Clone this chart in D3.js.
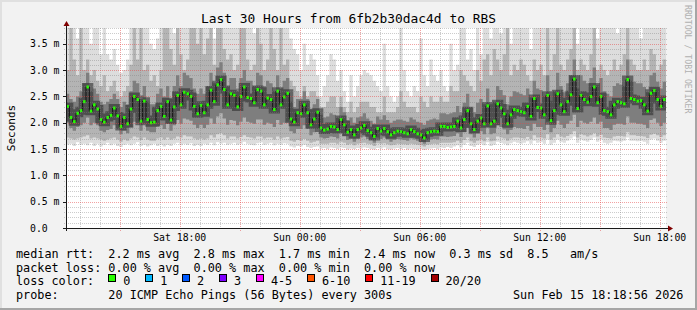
<!DOCTYPE html>
<html>
<head>
<meta charset="utf-8">
<script src="https://d3js.org/d3.v7.min.js"></script>
<style>
  html, body { margin: 0; padding: 0; background: #f2f2f2; }
  svg { display: block; }
  text { font-family: "DejaVu Sans Mono", monospace; fill: #000; white-space: pre; }
</style>
</head>
<body>
<svg id="chart" width="697" height="310"></svg>
<script>
// 30 hours of pings, one value per 10 minute step, in ms
var startTime = Date.UTC(2026, 1, 14, 12, 18, 56);
var endTime = Date.UTC(2026, 1, 15, 18, 18, 56);
var stepMinutes = 10;

var median = [
	2.31,2.10,2.02,2.18,2.23,2.40,2.68,2.22,2.34,2.26,
	2.06,2.01,2.10,2.14,2.28,2.13,1.93,2.10,1.98,2.26,
	2.50,2.44,2.03,2.41,2.06,2.00,2.01,2.23,2.31,2.12,
	2.40,2.05,2.30,2.52,2.34,2.58,2.55,2.50,2.31,2.17,
	2.33,2.19,2.34,2.62,2.40,2.72,2.82,2.63,2.34,2.55,
	2.52,2.30,2.50,2.68,2.48,2.46,2.38,2.63,2.60,2.34,
	2.47,2.44,2.25,2.60,2.34,2.49,2.56,2.07,2.01,2.19,
	2.17,2.34,2.19,1.96,2.07,2.20,1.90,1.86,1.88,1.93,
	1.92,1.87,2.06,1.96,1.82,1.87,1.77,1.87,1.90,1.95,
	1.85,1.81,1.74,1.89,1.84,1.89,1.83,1.77,1.81,1.84,
	1.83,1.81,1.79,1.87,1.83,1.79,1.77,1.71,1.81,1.83,
	1.84,1.83,1.93,1.93,1.91,1.92,1.93,2.03,1.90,2.06,
	2.23,1.98,1.87,2.03,2.09,1.98,2.32,1.98,2.03,2.36,
	2.28,2.17,1.98,2.15,2.25,2.23,2.21,2.19,2.31,2.12,
	2.46,2.29,2.28,2.15,2.52,2.04,2.23,2.55,2.34,2.21,
	2.40,2.53,2.83,2.27,2.52,2.44,2.39,2.50,2.68,2.38,
	2.50,2.23,2.21,2.15,2.34,2.40,2.38,2.36,2.82,2.46,
	2.44,2.41,2.42,2.34,2.22,2.56,2.61,2.44,2.31,2.44
];

// smoke: slowest ping (3.9 = off the top of the graph)
var pingMax = [
	3.9,3.9,3.9,3.6,3.9,3.9,3.9,3.5,3.9,3.9,
	3.3,3.9,3.3,3.2,3.4,3.1,2.95,3.0,3.2,3.9,
	3.9,3.9,3.9,3.9,3.9,3.5,3.4,3.6,3.9,3.9,
	3.9,3.9,3.7,3.9,3.9,3.9,3.9,3.9,3.9,3.9,
	3.9,3.9,3.9,3.9,3.6,3.9,3.9,3.9,3.9,3.9,
	3.9,3.9,3.9,3.9,3.9,3.9,3.7,3.9,3.9,3.9,
	3.9,3.9,3.9,3.9,3.9,3.9,3.9,3.6,3.4,3.3,
	3.0,3.5,3.1,3.3,3.2,2.9,2.5,2.7,2.9,3.3,
	3.2,2.8,3.0,2.6,2.4,2.9,2.5,2.7,2.9,3.0,
	2.95,2.9,2.8,2.7,2.6,3.5,2.7,2.5,2.4,2.5,
	3.9,3.0,2.6,2.5,2.7,2.6,3.6,2.9,2.7,3.2,
	2.9,2.8,3.0,2.7,2.6,3.5,3.0,3.1,3.9,3.9,
	3.2,3.4,3.0,3.9,3.3,3.9,3.9,3.6,3.9,3.9,
	3.7,3.9,3.9,3.5,3.9,3.9,3.9,3.9,3.9,3.4,
	3.9,3.9,3.9,3.9,3.6,3.9,3.9,3.9,3.9,3.9,
	3.9,3.9,3.9,3.5,3.9,3.9,3.9,3.9,3.9,3.6,
	3.9,3.9,3.9,3.9,3.9,3.7,3.9,3.9,3.9,3.9,
	3.9,3.9,3.6,3.9,3.9,3.9,3.9,3.9,3.9,3.9
];

// smoke: upper edge of the middle grey
var pingHigh = [
	3.0,3.9,3.2,2.9,3.9,3.0,3.2,2.9,3.0,2.8,
	2.7,2.9,2.6,2.7,2.8,2.6,2.5,2.6,2.7,3.1,
	3.9,3.2,3.9,3.0,3.1,2.8,2.9,2.7,3.0,3.9,
	3.9,3.4,3.1,3.9,3.3,3.0,3.2,3.9,3.9,3.5,
	3.9,3.3,3.6,3.9,3.1,3.9,3.9,3.4,3.2,3.3,
	3.0,3.1,3.9,3.9,3.2,3.0,3.1,3.9,3.5,3.0,
	3.2,3.9,3.4,3.0,3.9,3.1,3.2,2.8,2.7,2.6,
	2.5,2.7,2.5,2.6,2.6,2.5,2.3,2.3,2.4,2.5,
	2.5,2.3,2.5,2.3,2.2,2.4,2.2,2.3,2.4,2.4,
	2.4,2.3,2.3,2.2,2.2,2.5,2.2,2.2,2.2,2.3,
	2.6,2.4,2.3,2.3,2.3,2.2,2.5,2.4,2.3,2.5,
	2.4,2.4,2.5,2.4,2.4,2.7,2.6,2.6,3.0,2.9,
	2.8,2.7,2.6,3.0,2.8,3.2,3.3,2.9,3.4,3.2,
	3.0,3.3,3.9,2.9,3.1,3.0,3.2,3.1,2.9,2.8,
	3.2,3.0,3.1,2.9,3.9,3.0,3.3,3.9,3.1,3.0,
	3.2,3.4,3.9,3.0,3.2,3.1,3.0,3.3,3.9,3.0,
	3.1,3.0,2.9,3.0,3.2,3.0,3.1,3.3,3.9,3.2,
	3.1,3.0,3.0,3.2,3.0,3.4,3.3,3.0,3.1,3.2
];

// smoke: dark band round the median, upper edge
var pingQ3 = [
	2.55,2.45,2.40,2.50,2.60,2.75,2.95,2.60,2.65,2.55,
	2.40,2.35,2.40,2.45,2.55,2.45,2.30,2.40,2.35,2.60,
	2.80,2.75,2.45,2.70,2.40,2.35,2.35,2.55,2.65,2.50,
	2.70,2.45,2.70,2.90,2.70,2.95,2.90,2.85,2.65,2.55,
	2.65,2.55,2.70,2.95,2.75,3.05,3.15,2.95,2.70,2.85,
	2.85,2.65,2.85,3.00,2.80,2.80,2.70,2.95,2.90,2.70,
	2.80,2.75,2.60,2.90,2.65,2.80,2.85,2.40,2.30,2.45,
	2.45,2.60,2.45,2.25,2.35,2.45,2.15,2.10,2.12,2.18,
	2.15,2.10,2.30,2.20,2.05,2.10,2.00,2.10,2.12,2.18,
	2.08,2.04,1.98,2.12,2.06,2.14,2.05,2.00,2.04,2.06,
	2.06,2.04,2.02,2.10,2.06,2.02,2.00,1.96,2.04,2.06,
	2.08,2.06,2.18,2.18,2.16,2.18,2.20,2.32,2.20,2.38,
	2.55,2.30,2.20,2.38,2.45,2.35,2.65,2.35,2.40,2.70,
	2.62,2.52,2.35,2.50,2.60,2.58,2.55,2.52,2.65,2.48,
	2.80,2.65,2.62,2.50,2.90,2.42,2.60,2.95,2.70,2.58,
	2.75,2.90,3.20,2.65,2.90,2.80,2.75,2.85,3.05,2.72,
	2.85,2.60,2.55,2.50,2.70,2.75,2.72,2.70,3.20,2.80,
	2.78,2.75,2.75,2.68,2.58,2.90,2.95,2.78,2.65,2.78
];

// smoke: dark band round the median, lower edge
var pingQ1 = [
	2.00,1.90,1.85,1.92,1.95,2.00,2.10,1.95,2.00,1.95,
	1.85,1.82,1.86,1.88,1.95,1.88,1.78,1.85,1.80,1.92,
	2.02,2.00,1.85,1.98,1.85,1.82,1.82,1.92,1.95,1.88,
	1.98,1.85,1.95,2.05,1.98,2.08,2.06,2.04,1.96,1.90,
	1.96,1.90,1.96,2.08,1.98,2.12,2.18,2.08,1.96,2.05,
	2.04,1.95,2.02,2.10,2.02,2.00,1.98,2.06,2.06,1.96,
	2.00,1.98,1.92,2.05,1.96,2.00,2.02,1.84,1.80,1.88,
	1.88,1.95,1.88,1.76,1.82,1.88,1.72,1.70,1.71,1.74,
	1.73,1.70,1.80,1.75,1.67,1.70,1.64,1.70,1.72,1.74,
	1.69,1.67,1.62,1.72,1.69,1.72,1.68,1.64,1.67,1.69,
	1.68,1.67,1.66,1.70,1.68,1.66,1.64,1.60,1.67,1.68,
	1.69,1.68,1.74,1.74,1.73,1.74,1.75,1.80,1.73,1.82,
	1.90,1.78,1.72,1.80,1.84,1.78,1.92,1.78,1.80,1.95,
	1.92,1.87,1.78,1.86,1.92,1.90,1.90,1.88,1.94,1.85,
	1.98,1.92,1.92,1.86,2.02,1.82,1.90,2.04,1.96,1.90,
	1.98,2.04,2.15,1.92,2.04,2.00,1.98,2.02,2.10,1.98,
	2.02,1.90,1.90,1.86,1.96,1.98,1.98,1.96,2.12,2.00,
	2.00,1.98,1.98,1.96,1.90,2.05,2.08,2.00,1.94,2.00
];

// smoke: lower edge of the middle grey
var pingLow = [
	1.72,1.70,1.68,1.70,1.72,1.74,1.76,1.70,1.72,1.70,
	1.68,1.66,1.68,1.70,1.72,1.68,1.64,1.68,1.66,1.70,
	1.74,1.72,1.67,1.72,1.68,1.66,1.66,1.70,1.72,1.68,
	1.72,1.68,1.70,1.74,1.72,1.76,1.74,1.74,1.70,1.68,
	1.70,1.68,1.70,1.76,1.72,1.78,1.80,1.76,1.70,1.74,
	1.74,1.70,1.73,1.76,1.73,1.72,1.70,1.74,1.74,1.70,
	1.72,1.72,1.68,1.74,1.70,1.72,1.73,1.66,1.64,1.67,
	1.66,1.69,1.66,1.62,1.64,1.66,1.60,1.60,1.60,1.62,
	1.62,1.60,1.64,1.62,1.58,1.60,1.57,1.60,1.61,1.62,
	1.60,1.59,1.56,1.61,1.60,1.61,1.59,1.57,1.58,1.60,
	1.59,1.59,1.58,1.60,1.59,1.58,1.57,1.55,1.58,1.59,
	1.60,1.59,1.62,1.62,1.62,1.62,1.63,1.66,1.62,1.67,
	1.72,1.65,1.62,1.66,1.68,1.65,1.72,1.65,1.66,1.74,
	1.72,1.70,1.66,1.70,1.72,1.72,1.71,1.70,1.73,1.69,
	1.76,1.72,1.72,1.70,1.78,1.68,1.72,1.78,1.74,1.72,
	1.75,1.78,1.84,1.72,1.78,1.76,1.74,1.76,1.80,1.74,
	1.77,1.72,1.71,1.70,1.74,1.75,1.75,1.74,1.82,1.76,
	1.76,1.75,1.75,1.74,1.71,1.77,1.79,1.76,1.73,1.76
];

// smoke: fastest ping
var pingMin = [
	1.58,1.60,1.56,1.63,1.58,1.60,1.57,1.62,1.56,1.60,
	1.55,1.58,1.62,1.57,1.60,1.56,1.54,1.58,1.60,1.57,
	1.60,1.63,1.56,1.58,1.55,1.57,1.60,1.56,1.58,1.55,
	1.58,1.56,1.60,1.62,1.57,1.60,1.58,1.61,1.56,1.58,
	1.56,1.60,1.58,1.62,1.57,1.63,1.60,1.62,1.58,1.60,
	1.62,1.58,1.60,1.64,1.60,1.58,1.57,1.61,1.63,1.58,
	1.60,1.62,1.57,1.60,1.58,1.61,1.60,1.55,1.53,1.56,
	1.55,1.58,1.54,1.52,1.54,1.55,1.51,1.52,1.50,1.53,
	1.52,1.50,1.53,1.52,1.49,1.51,1.50,1.52,1.51,1.53,
	1.52,1.50,1.49,1.52,1.51,1.53,1.50,1.49,1.51,1.52,
	1.50,1.52,1.49,1.51,1.50,1.49,1.50,1.48,1.50,1.51,
	1.52,1.50,1.53,1.52,1.54,1.52,1.55,1.57,1.53,1.58,
	1.62,1.56,1.54,1.58,1.60,1.57,1.63,1.56,1.58,1.64,
	1.62,1.60,1.57,1.61,1.64,1.62,1.60,1.62,1.65,1.60,
	1.66,1.62,1.64,1.60,1.68,1.58,1.62,1.68,1.64,1.62,
	1.66,1.70,1.74,1.62,1.68,1.66,1.64,1.67,1.72,1.64,
	1.68,1.62,1.60,1.62,1.66,1.65,1.64,1.66,1.72,1.66,
	1.66,1.65,1.66,1.64,1.60,1.68,1.70,1.66,1.62,1.66
];

var yTicks = [0, 0.5, 1.0, 1.5, 2.0, 2.5, 3.0, 3.5];
var yTickLabels = ["0.0", "0.5 m", "1.0 m", "1.5 m", "2.0 m", "2.5 m", "3.0 m", "3.5 m"];
var xTicks = [Date.UTC(2026,1,14,18), Date.UTC(2026,1,15,0), Date.UTC(2026,1,15,6), Date.UTC(2026,1,15,12), Date.UTC(2026,1,15,18)];
var xTickLabels = ["Sat 18:00", "Sun 00:00", "Sun 06:00", "Sun 12:00", "Sun 18:00"];

var lossLabels = ["0", "1", "2", "3", "4-5", "6-10", "11-19", "20/20"];
var lossColors = ["#26ff00", "#00b8ff", "#0059ff", "#7e00ff", "#ff00ff", "#ff5500", "#ff0000", "#a10000"];

var legendLines = [
	"median rtt:  2.2 ms avg  2.8 ms max  1.7 ms min  2.4 ms now  0.3 ms sd  8.5   am/s",
	"packet loss: 0.00 % avg  0.00 % max  0.00 % min  0.00 % now",
	"loss color:",
	"probe:       20 ICMP Echo Pings (56 Bytes) every 300s"
];
var stampText = "Sun Feb 15 18:18:56 2026";

var W = 697, H = 310;
var plot = {left: 66, right: 666, top: 28, bottom: 228};
var charW = 7.1;

var x = d3.scaleUtc().domain([startTime, endTime]).range([plot.left, plot.right]);
var y = d3.scaleLinear().domain([0, 3.8]).range([plot.bottom, plot.top]);

var svg = d3.select("#chart");

// background + frame
svg.append("rect").attr("width", W).attr("height", H).attr("fill", "#f2f2f2");
svg.append("rect").attr("x", 0).attr("y", 0).attr("width", W).attr("height", 2).attr("fill", "#e0e0e0");
svg.append("rect").attr("x", 0).attr("y", 0).attr("width", 2).attr("height", H).attr("fill", "#e0e0e0");
svg.append("rect").attr("x", 0).attr("y", H - 2).attr("width", W).attr("height", 2).attr("fill", "#a6a6a6");
svg.append("rect").attr("x", W - 2).attr("y", 0).attr("width", 2).attr("height", H).attr("fill", "#a6a6a6");

svg.append("rect")
	.attr("x", plot.left).attr("y", plot.top)
	.attr("width", plot.right - plot.left).attr("height", plot.bottom - plot.top)
	.attr("fill", "#ffffff");

svg.append("clipPath").attr("id", "clip")
	.append("rect")
	.attr("x", plot.left).attr("y", plot.top)
	.attr("width", plot.right - plot.left).attr("height", plot.bottom - plot.top);

var g = svg.append("g").attr("clip-path", "url(#clip)");

var N = median.length;
var idx = d3.range(N + 1);
function tAt(i) { return startTime + i * stepMinutes * 60000; }
function val(arr, i) { return arr[Math.min(i, arr.length - 1)]; }

function band(lo, hi, color) {
	var area = d3.area()
		.curve(d3.curveStepAfter)
		.x(function(i) { return x(tAt(i)); })
		.y0(function(i) { return y(val(lo, i)); })
		.y1(function(i) { return y(val(hi, i)); });
	g.append("path").datum(idx).attr("d", area).attr("fill", color);
}

band(pingMin, pingMax, "#dddddd");
band(pingLow, pingHigh, "#b4b4b4");
band(pingQ1, pingQ3, "#7e7e7e");

var medLine = d3.line()
	.curve(d3.curveStepAfter)
	.x(function(i) { return x(tAt(i)); })
	.y(function(i) { return y(val(median, i)); });

// dark core of the smoke round the median
g.append("path").datum(idx).attr("d", medLine)
	.attr("fill", "none").attr("stroke", "#2e2e2e").attr("stroke-width", 8).attr("opacity", 0.6);

// grid, drawn over the smoke like rrdtool does
var minorY = y.ticks(38).filter(function(v) { return Math.round(v * 10) % 5 !== 0; });
var minorX = d3.utcHour.range(startTime, endTime).filter(function(t) { return t.getUTCHours() % 3 !== 0; });
var majorX = d3.utcHour.every(3).range(startTime, endTime);

var grid = svg.append("g").attr("fill", "none").attr("stroke-dasharray", "1,1");
var minorCol = "rgba(128,128,128,0.4)", majorCol = "rgba(230,70,70,0.5)";

grid.selectAll(".minor-y").data(minorY).enter().append("line")
	.attr("x1", plot.left - 2).attr("x2", plot.right + 2)
	.attr("y1", function(d) { return Math.round(y(d)) + 0.5; })
	.attr("y2", function(d) { return Math.round(y(d)) + 0.5; })
	.attr("stroke", minorCol);

grid.selectAll(".minor-x").data(minorX).enter().append("line")
	.attr("y1", plot.top).attr("y2", plot.bottom + 2)
	.attr("x1", function(d) { return Math.round(x(d)) + 0.5; })
	.attr("x2", function(d) { return Math.round(x(d)) + 0.5; })
	.attr("stroke", minorCol);

grid.selectAll(".major-y").data(yTicks.slice(1)).enter().append("line")
	.attr("x1", plot.left - 2).attr("x2", plot.right + 2)
	.attr("y1", function(d) { return Math.round(y(d)) + 0.5; })
	.attr("y2", function(d) { return Math.round(y(d)) + 0.5; })
	.attr("stroke", majorCol);

grid.selectAll(".major-x").data(majorX).enter().append("line")
	.attr("y1", plot.top).attr("y2", plot.bottom + 3)
	.attr("x1", function(d) { return Math.round(x(d)) + 0.5; })
	.attr("x2", function(d) { return Math.round(x(d)) + 0.5; })
	.attr("stroke", majorCol);

// median: black step line, green where loss is 0
g.append("path").datum(idx).attr("d", medLine)
	.attr("fill", "none").attr("stroke", "#111").attr("stroke-width", 1);

g.selectAll(".med").data(median).enter().append("rect")
	.attr("x", function(d, i) { return x(tAt(i)) + 0.4; })
	.attr("y", function(d) { return y(d) - 1.5; })
	.attr("width", function(d, i) { return x(tAt(i + 1)) - x(tAt(i)) - 0.8; })
	.attr("height", 3)
	.attr("fill", lossColors[0]);

// axes
svg.append("line").attr("x1", plot.left - 3).attr("x2", plot.right + 3)
	.attr("y1", plot.bottom + 0.5).attr("y2", plot.bottom + 0.5).attr("stroke", "#1a1a1a");
svg.append("line").attr("x1", plot.left + 0.5).attr("x2", plot.left + 0.5)
	.attr("y1", plot.bottom + 3).attr("y2", plot.top - 3).attr("stroke", "#1a1a1a");
svg.selectAll(".ytick").data(yTicks).enter().append("line")
	.attr("x1", plot.left - 3).attr("x2", plot.left)
	.attr("y1", function(d) { return Math.round(y(d)) + 0.5; })
	.attr("y2", function(d) { return Math.round(y(d)) + 0.5; })
	.attr("stroke", "#1a1a1a");
svg.append("path").attr("d", "M" + (plot.left - 2.5) + "," + (plot.top - 2) + "L" + (plot.left + 0.5) + "," + (plot.top - 7) + "L" + (plot.left + 3.5) + "," + (plot.top - 2) + "Z")
	.attr("fill", "#800000");
svg.append("path").attr("d", "M" + (plot.right + 2) + "," + (plot.bottom - 2.5) + "L" + (plot.right + 7) + "," + (plot.bottom + 0.5) + "L" + (plot.right + 2) + "," + (plot.bottom + 3.5) + "Z")
	.attr("fill", "#800000");

// tick labels
svg.selectAll(".ylab").data(yTicks).enter().append("text")
	.attr("x", 30)
	.attr("y", function(d) { return y(d) + 3.5; })
	.attr("font-size", "9.8px")
	.text(function(d, i) { return yTickLabels[i]; });

svg.selectAll(".xlab").data(xTicks).enter().append("text")
	.attr("x", function(d) { return x(d); })
	.attr("y", 241)
	.attr("text-anchor", "middle")
	.attr("font-size", "9.8px")
	.text(function(d, i) { return xTickLabels[i]; });

// titles
svg.append("text").attr("x", 348.5).attr("y", 23).attr("text-anchor", "middle")
	.attr("font-size", "12.9px").text("Last 30 Hours from 6fb2b30dac4d to RBS");
svg.append("text").attr("transform", "translate(15,128) rotate(-90)")
	.attr("text-anchor", "middle").attr("font-size", "11px").text("Seconds");
svg.append("text").attr("transform", "translate(684.5,5) rotate(90)")
	.attr("font-size", "8.2px").style("fill", "#b0b0b0").text("RRDTOOL / TOBI OETIKER");

// legend
var legendY = [258, 271.5, 285, 298.5];
svg.selectAll(".leg").data(legendLines).enter().append("text")
	.attr("x", 16)
	.attr("y", function(d, i) { return legendY[i]; })
	.attr("font-size", "11.8px")
	.text(function(d) { return d; });
svg.append("text").attr("x", 16 + 70 * charW).attr("y", legendY[3])
	.attr("font-size", "11.8px").text(stampText);

var lx = 108.3;
lossLabels.forEach(function(lab, i) {
	svg.append("rect")
		.attr("x", Math.round(lx) + 0.5).attr("y", 274.5)
		.attr("width", 7).attr("height", 7)
		.attr("fill", lossColors[i]).attr("stroke", "#000");
	svg.append("text").attr("x", lx + 15).attr("y", legendY[2])
		.attr("font-size", "11.8px").text(lab);
	lx += 29.8 + charW * lab.length;
});
</script>
</body>
</html>
